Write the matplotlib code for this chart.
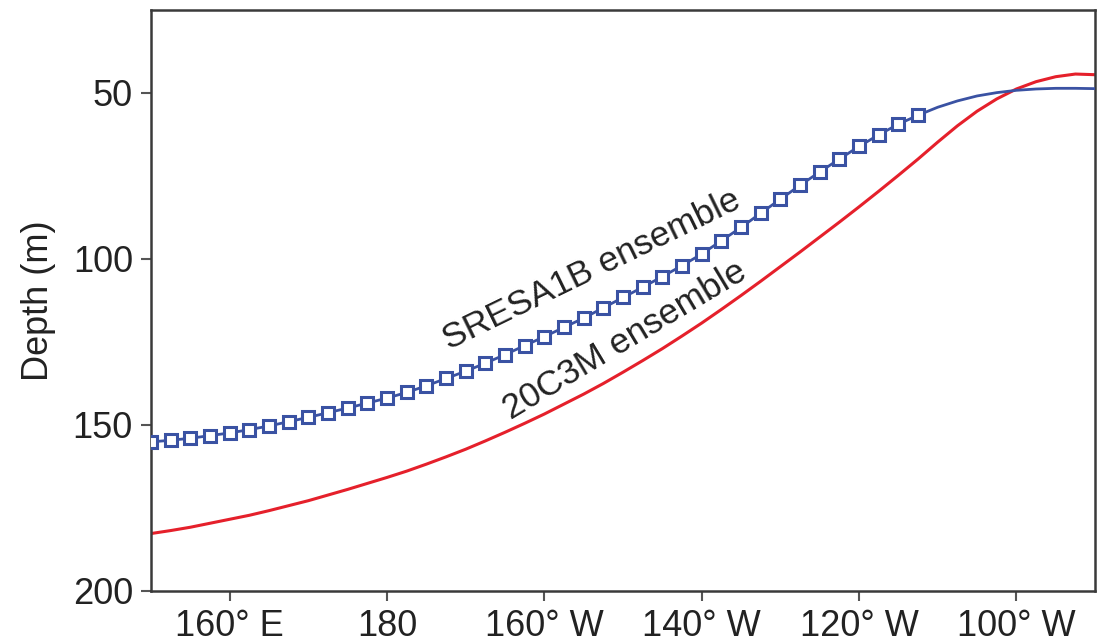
import matplotlib
matplotlib.use("Agg")
import matplotlib.pyplot as plt

plt.rcParams["font.family"] = ["Liberation Sans", "DejaVu Sans"]

# Longitude in degrees east (0-360), sampled every 2.5 degrees
longitude = [150 + 2.5 * i for i in range(49)]

# Thermocline depth (m), SRESA1B ensemble
depth_sresa1b = [
    155.1, 154.6, 154.0, 153.2, 152.4, 151.4, 150.3, 149.0, 147.7, 146.3,
    144.9, 143.4, 141.9, 140.2, 138.2, 136.0, 133.8, 131.4, 128.8, 126.1,
    123.4, 120.6, 117.8, 114.7, 111.6, 108.5, 105.3, 102.0, 98.5, 94.5,
    90.5, 86.2, 82.0, 77.8, 73.8, 69.9, 66.1, 62.6, 59.4, 56.7,
    54.3, 52.4, 50.9, 49.9, 49.2, 48.8, 48.6, 48.6, 48.7,
]

# Thermocline depth (m), 20C3M ensemble
depth_20c3m = [
    182.7, 181.8, 180.8, 179.6, 178.4, 177.2, 175.8, 174.3, 172.8, 171.1,
    169.4, 167.6, 165.8, 163.9, 161.8, 159.6, 157.3, 154.8, 152.2, 149.5,
    146.7, 143.7, 140.7, 137.5, 134.1, 130.6, 127.0, 123.2, 119.3, 115.2,
    111.0, 106.7, 102.3, 97.9, 93.4, 88.9, 84.3, 79.6, 74.8, 69.9,
    64.8, 59.9, 55.5, 51.8, 48.8, 46.6, 45.1, 44.3, 44.5,
]

# markers only where the SRESA1B series was sampled on the grid
n_marked = 40

x_ticks = [160, 180, 200, 220, 240, 260]
x_tick_labels = ["160° E", "180", "160° W", "140° W", "120° W", "100° W"]
y_ticks = [50, 100, 150, 200]

fig = plt.figure(figsize=(11.04, 6.43), dpi=100)
ax = fig.add_axes([0.1368, 0.0809, 0.8551, 0.9036])

ax.plot(longitude, depth_20c3m, color="#e5202b", linewidth=2.2, zorder=2)
ax.plot(longitude, depth_sresa1b, color="#3a52a3", linewidth=2.0, zorder=3,
        marker="s", markersize=8, markerfacecolor="white",
        markeredgecolor="#3a52a3", markeredgewidth=2.2,
        markevery=list(range(n_marked)))

ax.set_xlim(150, 270)
ax.set_ylim(200, 25)
ax.set_xticks(x_ticks)
ax.set_xticklabels(x_tick_labels)
ax.set_yticks(y_ticks)
ax.set_ylabel("Depth (m)", fontsize=26, color="#222222", labelpad=12)

ax.tick_params(axis="both", direction="out", length=7, width=1.5,
               color="#555555", labelsize=26, labelcolor="#222222", pad=6)
for spine in ax.spines.values():
    spine.set_color("#3a3a3a")
    spine.set_linewidth(1.8)

ax.text(206.0, 103.4, "SRESA1B ensemble", fontsize=25.5, color="#222222",
        rotation=26, rotation_mode="anchor", ha="center", va="center")
ax.text(210.2, 124.6, "20C3M ensemble", fontsize=25.5, color="#222222",
        rotation=31, rotation_mode="anchor", ha="center", va="center")

fig.savefig("out.png", dpi=100)
